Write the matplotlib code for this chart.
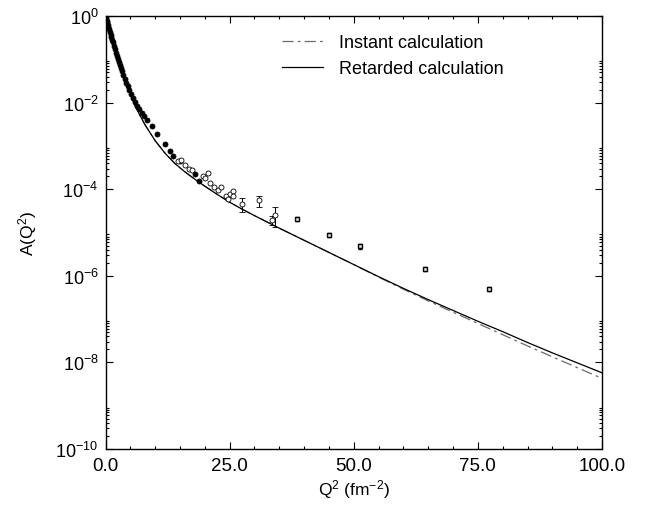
import numpy as np
import matplotlib
matplotlib.use("Agg")
import matplotlib.pyplot as plt
from matplotlib.ticker import FixedLocator, FixedFormatter, NullFormatter

plt.rcParams['font.family'] = ['Liberation Sans', 'DejaVu Sans']
plt.rcParams['mathtext.fontset'] = 'custom'
plt.rcParams['mathtext.rm'] = 'Liberation Sans'
plt.rcParams['mathtext.it'] = 'Liberation Sans'
plt.rcParams['lines.scale_dashes'] = False

# ---- theory curves (Q^2 in fm^-2, log10 A) ----
q2_curve = [0, 1, 2, 3, 4, 5, 6, 7, 8, 9, 10, 12, 14, 16, 18, 20, 22.5, 25, 27.5,
            30, 35, 40, 45, 50, 55, 60, 65, 70, 75, 80, 85, 90, 95, 100]
logA_retarded = [0, -0.43, -0.84, -1.19, -1.52, -1.81, -2.08, -2.31, -2.52, -2.70,
                 -2.88, -3.17, -3.41, -3.60, -3.77, -3.93, -4.12, -4.30, -4.46,
                 -4.61, -4.90, -5.18, -5.46, -5.74, -6.02, -6.29, -6.55, -6.80, -7.05,
                 -7.29, -7.54, -7.78, -8.01, -8.24]
logA_instant = [0, -0.43, -0.84, -1.19, -1.52, -1.81, -2.08, -2.31, -2.52, -2.70,
                -2.88, -3.17, -3.41, -3.60, -3.77, -3.93, -4.12, -4.30, -4.46,
                -4.61, -4.90, -5.18, -5.46, -5.74, -6.03, -6.31, -6.58, -6.84, -7.10,
                -7.36, -7.62, -7.87, -8.12, -8.37]

# ---- data: filled circles (low Q^2) ----
q2_filled = [0.05, 0.15, 0.25, 0.35, 0.5, 0.6, 0.75, 0.9, 1.05, 1.2, 1.35, 1.5, 1.7, 1.9,
             2.1, 2.3, 2.5, 2.7, 2.9, 3.1, 3.3, 3.6, 3.9, 4.2, 4.5, 4.8, 5.2, 5.6, 6.0,
             6.4, 6.8, 7.3, 7.8, 8.3, 9.3, 10.3, 12.0, 13.0, 13.6, 15.0, 18.0, 18.9]
logA_filled = [-0.02, -0.07, -0.11, -0.15, -0.21, -0.25, -0.31, -0.37, -0.43, -0.49,
               -0.55, -0.61, -0.69, -0.77, -0.85, -0.92, -0.99, -1.06, -1.13, -1.20,
               -1.26, -1.36, -1.45, -1.54, -1.62, -1.70, -1.80, -1.90, -1.99, -2.07,
               -2.15, -2.24, -2.32, -2.40, -2.55, -2.72, -2.96, -3.11, -3.24, -3.34,
               -3.65, -3.81]

# ---- data: open circles ----
q2_open = [14.6, 15.3, 16.0, 16.9, 17.5, 19.6, 20.0, 20.6, 21.0, 21.8, 22.6, 23.2, 24.3,
           24.6, 25.1, 25.7, 25.6]
logA_open = [-3.36, -3.32, -3.44, -3.53, -3.55, -3.70, -3.74, -3.62, -3.86, -3.94, -4.03,
             -3.94, -4.15, -4.22, -4.11, -4.05, -4.15]

# ---- data: open circles with error bars (log10 A, low, high) ----
q2_err = [27.4, 30.9, 34.1, 33.5]
logA_err = [-4.34, -4.26, -4.59, -4.72]
logA_err_lo = [-4.53, -4.41, -4.88, -4.83]
logA_err_hi = [-4.21, -4.15, -4.41, -4.62]

# ---- data: squares (high Q^2) ----
q2_sq = [38.5, 45.0, 51.3, 64.4, 77.3]
logA_sq = [-4.68, -5.05, -5.32, -5.84, -6.30]

xticks = [0, 25, 50, 75, 100]
xticklabels = ['0.0', '25.0', '50.0', '75.0', '100.0']
yticks_exp = [0, -2, -4, -6, -8, -10]

fig = plt.figure(figsize=(6.47, 5.06), dpi=100)
ax = fig.add_axes([105.5 / 647, 56 / 506, 496.5 / 647, 433 / 506])

p = lambda v: 10.0 ** np.asarray(v)

ax.plot(q2_curve, p(logA_instant), color='#6a6a6a', lw=0.9, dashes=(8, 3, 2, 3),
        label='Instant calculation', zorder=2)
ax.plot(q2_curve, p(logA_retarded), color='black', lw=0.9,
        label='Retarded calculation', zorder=3)

ax.plot(q2_filled, p(logA_filled), 'o', ms=3.6, mfc='black', mec='black', mew=0.6, zorder=4)
ax.plot(q2_open, p(logA_open), 'o', ms=3.6, mfc='white', mec='black', mew=0.6, zorder=4)
yv = p(logA_err)
yerr = [yv - p(logA_err_lo), p(logA_err_hi) - yv]
ax.errorbar(q2_err, yv, yerr=yerr, fmt='o', ms=3.6, mfc='white', mec='black', mew=0.6,
            ecolor='black', elinewidth=0.7, capsize=2.5, capthick=0.7, zorder=4)
ax.errorbar(q2_sq, p(logA_sq), yerr=[p(logA_sq) * 0.12, p(logA_sq) * 0.12], fmt='s', ms=3.4,
            mfc='#dddddd', mec='black', mew=1.0, ecolor='black', elinewidth=0.7,
            capsize=1.5, capthick=0.7, zorder=4)

ax.set_yscale('log')
ax.set_xlim(0, 100)
ax.set_ylim(1e-10, 1)

ax.xaxis.set_major_locator(FixedLocator(xticks))
ax.xaxis.set_major_formatter(FixedFormatter(xticklabels))
ax.xaxis.set_minor_locator(FixedLocator([v for v in range(0, 101, 5) if v % 25]))

ax.yaxis.set_major_locator(FixedLocator([10.0 ** e for e in yticks_exp]))
ax.yaxis.set_major_formatter(FixedFormatter([r'$\mathregular{10^{%d}}$' % e for e in yticks_exp]))
minors = []
for e in [-2, -4, -6, -8, -10]:
    for k in range(2, 10):
        minors.append(k * 10.0 ** e)
ax.yaxis.set_minor_locator(FixedLocator(minors))
ax.yaxis.set_minor_formatter(NullFormatter())

ax.tick_params(which='both', direction='in', top=True, right=True, width=0.8, color='black')
ax.tick_params(which='major', length=5)
ax.tick_params(which='minor', length=2.5)
ax.tick_params(axis='x', which='major', labelsize=13.5, pad=6)
ax.tick_params(axis='y', which='major', labelsize=13, pad=5)
for s in ax.spines.values():
    s.set_linewidth(1.0)

ax.set_xlabel(r'Q$^{\mathregular{2}}$ (fm$^{\mathregular{-2}}$)', fontsize=12.5, labelpad=2)
ax.set_ylabel(r'A(Q$^{\mathregular{2}}$)', fontsize=12.5, labelpad=12)

ax.legend(loc='upper left', bbox_to_anchor=(0.355, 0.958), frameon=False,
          borderpad=0, borderaxespad=0,
          fontsize=13, handlelength=2.3, handletextpad=0.85, labelspacing=0.5)

fig.savefig('out.png', dpi=100)
